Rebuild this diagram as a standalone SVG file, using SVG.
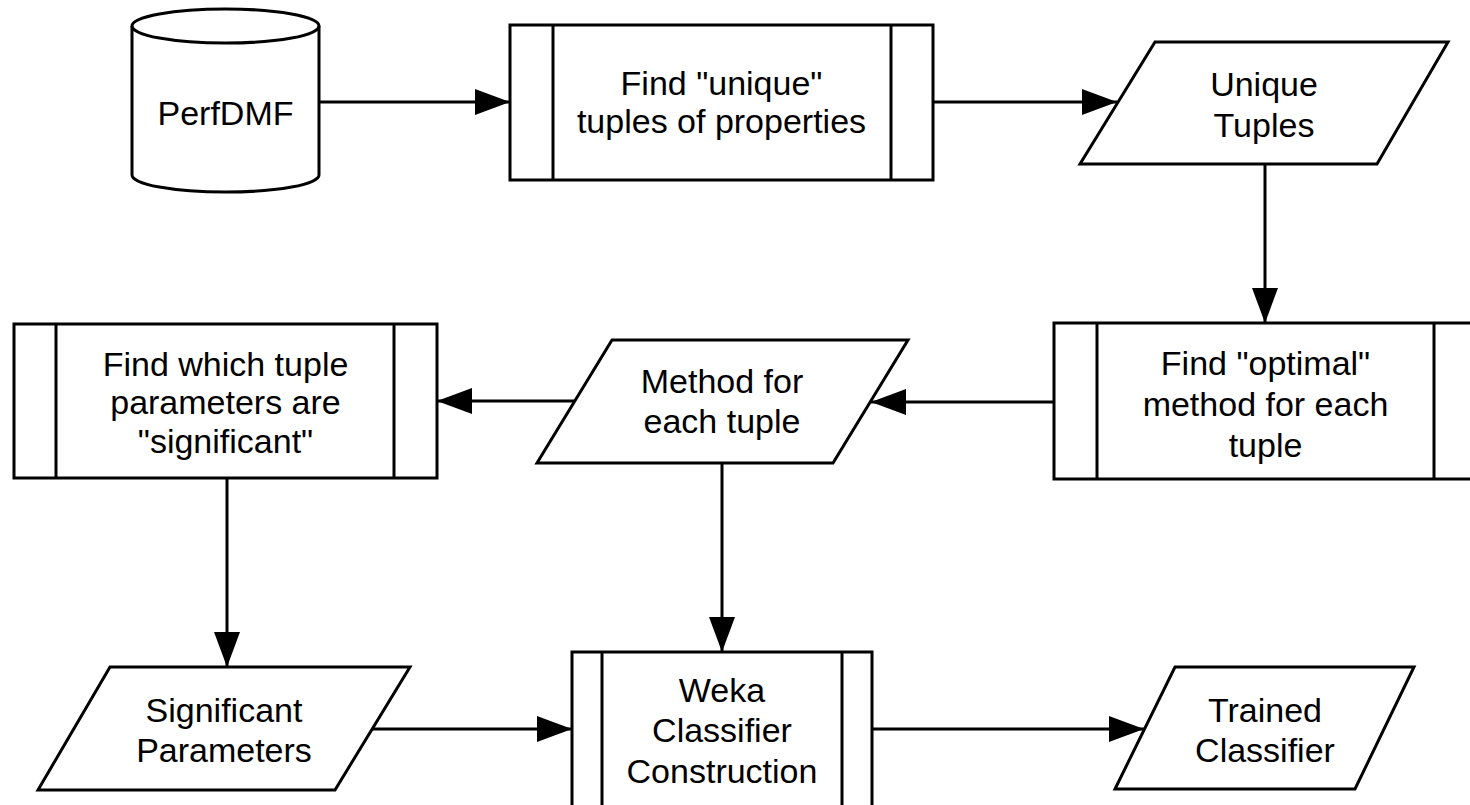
<svg xmlns="http://www.w3.org/2000/svg" width="1470" height="805" viewBox="0 0 1470 805">
<style>
.s{fill:#fff;stroke:#000;stroke-width:3;stroke-linejoin:miter}
.l{fill:none;stroke:#000;stroke-width:3}
.c{stroke:#000;stroke-width:3;fill:none;marker-end:url(#ah)}
text{font-family:"Liberation Sans",Arial,Helvetica,sans-serif;font-size:34px;fill:#000;text-anchor:middle}
</style>
<defs>
<marker id="ah" markerUnits="userSpaceOnUse" markerWidth="38" markerHeight="28" refX="35" refY="13" orient="auto">
<path d="M0,0 L35,13 L0,26 Z" fill="#000"/>
</marker>
</defs>
<rect width="1470" height="805" fill="#fff"/>
<g id="connectors">
<line class="c" x1="319" y1="102" x2="510" y2="102"/>
<line class="c" x1="933" y1="102" x2="1117" y2="102"/>
<line class="c" x1="1265" y1="164" x2="1265" y2="323"/>
<line class="c" x1="1054" y1="402" x2="871" y2="402"/>
<line class="c" x1="575" y1="401" x2="437" y2="401"/>
<line class="c" x1="227" y1="478" x2="227" y2="667"/>
<line class="c" x1="722" y1="463" x2="722" y2="652"/>
<line class="c" x1="372" y1="729" x2="572" y2="729"/>
<line class="c" x1="872" y1="729" x2="1144" y2="729"/>
</g>
<g id="perfdmf">
<path class="s" d="M132,26 A93.5,17 0 0,1 319,26 L319,175 A93.5,17 0 0,1 132,175 Z"/>
<path class="l" d="M132,26 A93.5,17 0 0,0 319,26"/>
<text x="225.5" y="125">PerfDMF</text>
</g>
<g id="find-unique">
<rect class="s" x="510" y="25" width="423" height="155"/>
<line class="l" x1="553" y1="25" x2="553" y2="180"/>
<line class="l" x1="891" y1="25" x2="891" y2="180"/>
<text x="721.5" y="95">Find "unique"</text>
<text x="721.5" y="133">tuples of properties</text>
</g>
<g id="unique-tuples">
<polygon class="s" points="1155,42 1448,42 1377,164 1080,164"/>
<text x="1264" y="96">Unique</text>
<text x="1264" y="137">Tuples</text>
</g>
<g id="find-optimal">
<rect class="s" x="1054" y="323" width="423" height="156"/>
<line class="l" x1="1097" y1="323" x2="1097" y2="479"/>
<line class="l" x1="1434" y1="323" x2="1434" y2="479"/>
<text x="1265.5" y="375">Find "optimal"</text>
<text x="1265.5" y="416">method for each</text>
<text x="1265.5" y="457">tuple</text>
</g>
<g id="method-each-tuple">
<polygon class="s" points="612,340 908,340 833,463 537,463"/>
<text x="722" y="393">Method for</text>
<text x="722" y="433">each tuple</text>
</g>
<g id="find-significant">
<rect class="s" x="14" y="324" width="423" height="154"/>
<line class="l" x1="56" y1="324" x2="56" y2="478"/>
<line class="l" x1="394" y1="324" x2="394" y2="478"/>
<text x="225.5" y="376">Find which tuple</text>
<text x="225.5" y="414">parameters are</text>
<text x="225.5" y="453">"significant"</text>
</g>
<g id="significant-parameters">
<polygon class="s" points="110,667 410,667 335,790 38,790"/>
<text x="224" y="722">Significant</text>
<text x="224" y="762">Parameters</text>
</g>
<g id="weka">
<rect class="s" x="572" y="652" width="300" height="165"/>
<line class="l" x1="602" y1="652" x2="602" y2="817"/>
<line class="l" x1="842" y1="652" x2="842" y2="817"/>
<text x="722" y="702">Weka</text>
<text x="722" y="742">Classifier</text>
<text x="722" y="783">Construction</text>
</g>
<g id="trained-classifier">
<polygon class="s" points="1175,667 1414,667 1355,789 1115,789"/>
<text x="1265" y="722">Trained</text>
<text x="1265" y="762">Classifier</text>
</g>
</svg>
